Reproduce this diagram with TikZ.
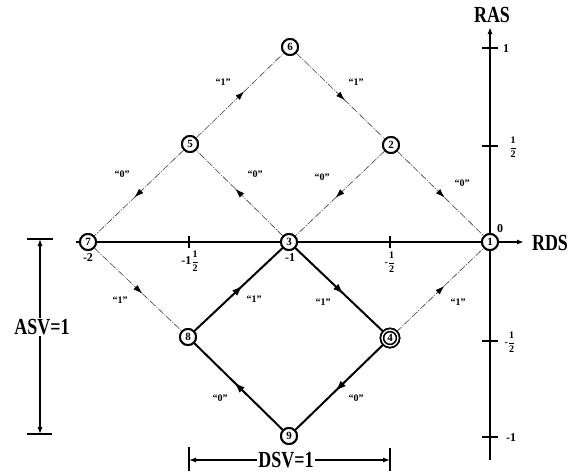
\documentclass[tikz,border=0pt]{standalone}
\usepackage{fontspec}
\setmainfont{Liberation Serif}
\usetikzlibrary{arrows.meta,decorations.markings}
\newcommand{\bigtxt}[1]{\scalebox{0.78}[1]{\fontsize{23}{23}\selectfont\bfseries #1}}
\newcommand{\hf}{\(\displaystyle\frac{\mathbf{1}}{\mathbf{2}}\)}
\begin{document}
\begin{tikzpicture}[x=1pt,y=-1pt,
  state/.style={circle,draw,line width=1.9pt,minimum size=16pt,inner sep=0pt,fill=white,
    font=\fontsize{11}{11}\selectfont\bfseries},
  weak/.style={line width=0.6pt,black!75,dash pattern=on 7pt off 1.5pt on 1pt off 1.5pt,
    postaction={decorate},decoration={markings,
    mark=at position 0.55 with {\arrow{Latex[length=9pt,width=6pt,black]}}}},
  strong/.style={line width=2pt,
    postaction={decorate},decoration={markings,
    mark=at position 0.55 with {\arrow{Latex[length=11pt,width=7.5pt,black]}}}},
  lbl/.style={font=\fontsize{10}{10}\selectfont\bfseries,inner sep=1pt},
  tlbl/.style={font=\fontsize{12}{12}\selectfont\bfseries,inner sep=0pt},
  flbl/.style={font=\fontsize{10}{10}\selectfont\bfseries,inner sep=0pt},
  axis/.style={line width=2pt},
  dim/.style={line width=1.1pt}]
\useasboundingbox (0,0) rectangle (577,474);

% axes
\coordinate (xl) at (76,242);
\coordinate (xr) at (524,242);
\coordinate (yb) at (490,460);
\coordinate (yt) at (490,27);
\draw[axis] (xl) -- (490,242);
\draw[axis,-{Latex[length=7pt,width=5pt]}] (490,242) -- (xr);
\draw[axis,-{Latex[length=7pt,width=5pt]}] (yb) -- (yt);
\foreach \x in {189,390} \draw[line width=1.3pt] (\x,236) -- (\x,248);
\foreach \y in {48,146,341,437} \draw[line width=1.3pt] (482,\y) -- (498,\y);

\node at (492,15) {\bigtxt{RAS}};
\node at (550,243) {\bigtxt{RDS}};
\node[tlbl] at (500,229) {0};
\node[tlbl] at (506,49) {1};
\node[flbl] at (513,147) {\hf};
\node[flbl] at (510,342) {-\hf};
\node[tlbl] at (511,438) {-1};
\node[tlbl] at (88,258) {-2};
\node[flbl] at (190,261) {{\fontsize{12}{12}\selectfont -1}\hf};
\node[tlbl] at (290,258) {-1};
\node[flbl] at (390,262) {-\hf};

% states
\node[state] (6) at (290,47) {6};
\node[state] (5) at (190,144) {5};
\node[state] (2) at (391,145) {2};
\node[state] (7) at (88,242) {7};
\node[state] (3) at (289,242) {3};
\node[state] (1) at (490,242) {1};
\node[state] (8) at (188,337) {8};
\node[state,double,double distance=1.3pt,line width=1.7pt,minimum size=16pt] (4) at (390,338) {4};
\node[state] (9) at (289,436) {9};

% transitions
\draw[weak] (5) -- (6);
\draw[weak] (6) -- (2);
\draw[weak] (5) -- (7);
\draw[weak] (3) -- (5);
\draw[weak] (2) -- (3);
\draw[weak] (2) -- (1);
\draw[weak] (7) -- (8);
\draw[weak] (4) -- (1);
\draw[strong] (8) -- (3);
\draw[strong] (3) -- (4);
\draw[strong] (4) -- (9);
\draw[strong] (9) -- (8);

% redraw nodes on top
\node[state] at (6) {6};
\node[state] at (5) {5};
\node[state] at (2) {2};
\node[state] at (7) {7};
\node[state] at (3) {3};
\node[state] at (1) {1};
\node[state] at (8) {8};
\node[state,double,double distance=1.3pt,line width=1.7pt,minimum size=16pt] at (4) {4};
\node[state] at (9) {9};

% labels
\node[lbl] at (223,82) {``1''};
\node[lbl] at (356,82) {``1''};
\node[lbl] at (122,174) {``0''};
\node[lbl] at (255,174) {``0''};
\node[lbl] at (322,177) {``0''};
\node[lbl] at (462,183) {``0''};
\node[lbl] at (120,300) {``1''};
\node[lbl] at (254,299) {``1''};
\node[lbl] at (323,302) {``1''};
\node[lbl] at (458,302) {``1''};
\node[lbl] at (220,398) {``0''};
\node[lbl] at (356,398) {``0''};

% ASV dimension
\coordinate (at) at (40,239);
\coordinate (ab) at (40,434);
\draw[dim] (27,239) -- (53,239);
\draw[dim] (27,434) -- (52,434);
\draw[dim,{Latex[length=7pt,width=5pt]}-{Latex[length=7pt,width=5pt]}] (at) -- (ab);
\node[fill=white,inner sep=1pt] at (42,327) {\bigtxt{ASV=1}};

% DSV dimension
\coordinate (dl) at (189,460);
\coordinate (dr) at (390,460);
\draw[dim] (189,447) -- (189,471);
\draw[dim] (390,448) -- (390,471);
\draw[dim,{Latex[length=7pt,width=5pt]}-{Latex[length=7pt,width=5pt]}] (dl) -- (dr);
\node[fill=white,inner sep=1pt] at (286,460) {\bigtxt{DSV=1}};
\end{tikzpicture}
\end{document}
